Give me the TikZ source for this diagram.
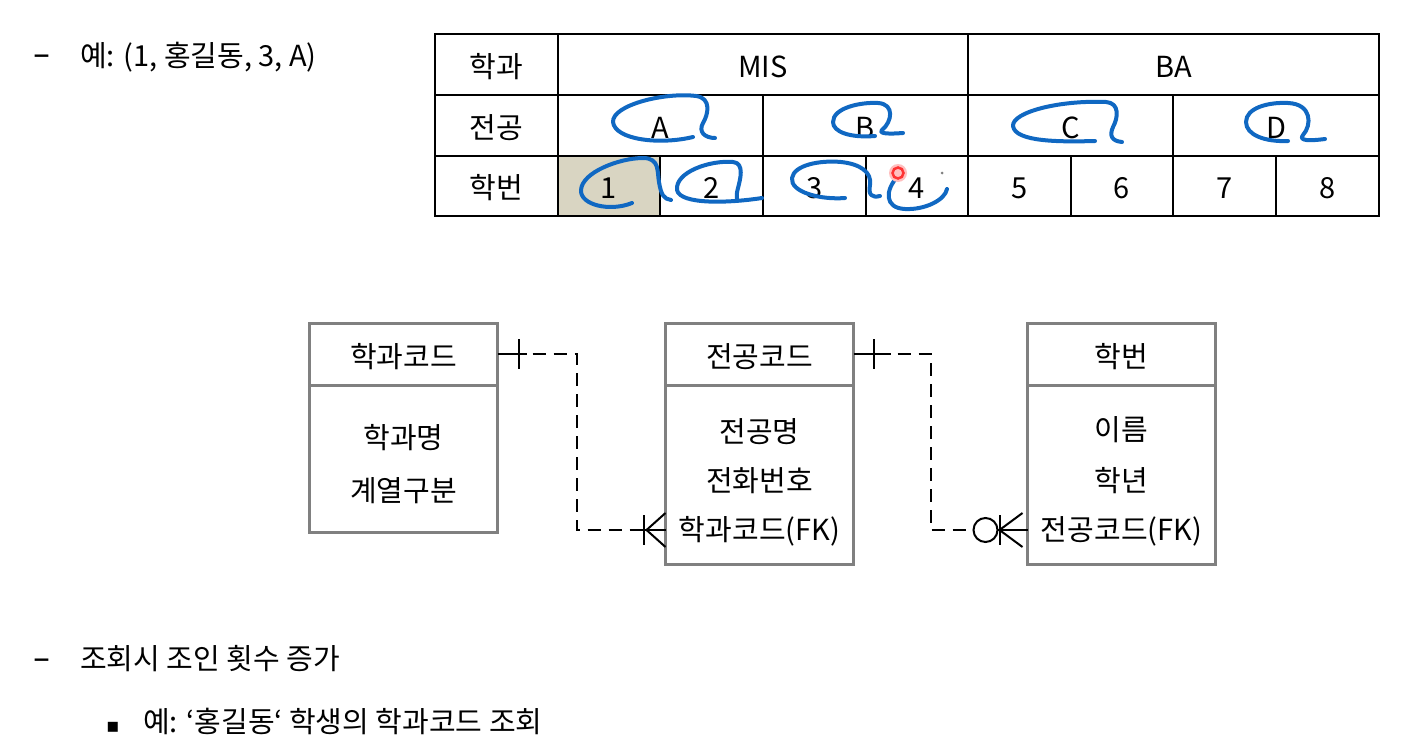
\documentclass[tikz,border=0pt]{standalone}
\usepackage{fontspec}
\setmainfont{Noto Sans CJK KR}
\newfontfamily\symfont{DejaVu Sans}
\usetikzlibrary{positioning,calc}
\definecolor{boxgray}{HTML}{808080}
\definecolor{cellshade}{HTML}{D9D5C2}
\definecolor{inkblue}{HTML}{1068C2}
\tikzset{
  txt/.style={font=\fontsize{29}{35}\selectfont,inner sep=0pt,text=black,
    text height=25pt,text depth=4pt},
  tblline/.style={line width=2pt,black},
  erbox/.style={rectangle,draw=boxgray,line width=3pt,minimum width=188pt,
    inner sep=0pt,outer sep=0pt},
  link/.style={line width=2pt,black},
  dashlink/.style={link,dash pattern=on 13pt off 8pt},
  ink/.style={line width=4pt,inkblue,line cap=round,line join=round},
}

\begin{document}
\begin{tikzpicture}[x=1pt,y=-1pt]
  \fill[white] (0,0) rectangle (1404,749);
  \useasboundingbox (0,0) rectangle (1404,749);

  % bullet lines
  \node[txt,font=\symfont\fontsize{34}{40}\selectfont] (dash1) at (42,55) {–};
  \node[txt,anchor=west] (ex1) at (80,56) {예: (1, 홍길동, 3, A)};
  \node[txt,font=\symfont\fontsize{34}{40}\selectfont] (dash2) at (42,659) {–};
  \node[txt,anchor=west] (join) at (80,659) {조회시 조인 횟수 증가};
  \node[txt,font=\symfont\fontsize{20}{24}\selectfont] (sq) at (113,722) {▪};
  \node[txt,anchor=west] (ex2) at (143,722) {예: ‘홍길동‘ 학생의 학과코드 조회};

  % code table
  \fill[cellshade] (558,156) rectangle (660,216);
  \draw[tblline] (435,34) rectangle (1379,216);
  \draw[tblline] (435,95) -- (1379,95) (435,156) -- (1379,156);
  \draw[tblline] (558,34) -- (558,216) (968,34) -- (968,216);
  \draw[tblline] (763,95) -- (763,216) (1173,95) -- (1173,216);
  \foreach \x in {660,866,1071,1276}
    \draw[tblline] (\x,156) -- (\x,216);

  \node[txt] (hdept) at (496.5,67) {학과};
  \node[txt] (hmajor) at (496.5,128) {전공};
  \node[txt] (hid) at (496.5,188) {학번};
  \node[txt] (mis) at (763,67) {MIS};
  \node[txt] (ba) at (1173.5,67) {BA};
  \node[txt] (ma) at (660.5,128) {A};
  \node[txt] (mb) at (865.5,128) {B};
  \node[txt] (mc) at (1070.5,128) {C};
  \node[txt] (md) at (1276,128) {D};
  \foreach \n/\x in {1/609,2/711.5,3/814.5,4/917,5/1019.5,6/1122,7/1224.5,8/1327.5}
    \node[txt] (n\n) at (\x,188) {\n};

  % hand annotations
  \draw[ink] (693,137) .. controls (660,145) and (615,140) .. (613,122)
    .. controls (612,105) and (665,92) .. (696,96)
    .. controls (712,98) and (708,115) .. (703,123)
    .. controls (698,132) and (705,138) .. (715,138);
  \draw[ink] (875,136) .. controls (850,138) and (833,132) .. (833,122)
    .. controls (833,108) and (860,102) .. (878,103)
    .. controls (895,104) and (892,122) .. (882,130)
    .. controls (878,134) and (890,134) .. (903,133);
  \draw[ink] (1095,141) .. controls (1060,142) and (1015,142) .. (1013,126)
    .. controls (1012,112) and (1060,100) .. (1106,102)
    .. controls (1120,103) and (1118,118) .. (1113,127)
    .. controls (1109,136) and (1112,141) .. (1122,142);
  \draw[ink] (1288,141) .. controls (1265,142) and (1246,135) .. (1246,122)
    .. controls (1246,108) and (1268,102) .. (1288,103)
    .. controls (1312,104) and (1312,125) .. (1303,135)
    .. controls (1298,141) and (1310,141) .. (1325,139);
  \draw[ink] (632,203) .. controls (610,212) and (580,205) .. (581,190)
    .. controls (582,172) and (620,158) .. (643,158)
    .. controls (660,158) and (657,172) .. (659,182)
    .. controls (661,195) and (664,199) .. (671,200);
  \draw[ink] (762,198) .. controls (730,203) and (680,205) .. (677,190)
    .. controls (675,172) and (710,160) .. (733,162)
    .. controls (745,163) and (740,180) .. (738,188)
    .. controls (736,195) and (737,198) .. (737,201);
  \draw[ink] (845,198) .. controls (820,200) and (790,192) .. (792,178)
    .. controls (794,165) and (820,160) .. (841,162)
    .. controls (860,164) and (872,172) .. (870,185)
    .. controls (868,195) and (872,198) .. (880,196);
  \draw[ink] (898,176) .. controls (885,190) and (884,208) .. (905,209)
    .. controls (925,210) and (945,200) .. (947,189);
  \fill[red!25] (898,173) circle[radius=9];
  \draw[red!80,line width=2.5pt] (898,173) circle[radius=5.5];
  \fill[gray] (942,173) circle[radius=1.5];

  % ER boxes
  \node[erbox,minimum height=62pt] (deptkey) at (403.5,354) {};
  \node[erbox,minimum height=147pt,below=0pt of deptkey] (deptbody) {};
  \node[erbox,minimum height=62pt] (majkey) at (759.5,354) {};
  \node[erbox,minimum height=179pt,below=0pt of majkey] (majbody) {};
  \node[erbox,minimum height=62pt] (stukey) at (1121.5,354) {};
  \node[erbox,minimum height=179pt,below=0pt of stukey] (stubody) {};

  \node[txt] (deptcode) at ($(deptkey)+(0,3)$) {학과코드};
  \node[txt] (deptname) at ($(deptbody.north)+(0,53)$) {학과명};
  \node[txt] (deptkind) at ($(deptbody.north)+(0,106)$) {계열구분};
  \node[txt] (majcode) at ($(majkey)+(0,3)$) {전공코드};
  \node[txt] (majname) at ($(majbody.north)+(0,47)$) {전공명};
  \node[txt] (majtel) at ($(majbody.north)+(0,96)$) {전화번호};
  \node[txt] (majfk) at ($(majbody.north)+(0,145)$) {학과코드(FK)};
  \node[txt] (stuid) at ($(stukey)+(0,3)$) {학번};
  \node[txt] (stuname) at ($(stubody.north)+(0,45)$) {이름};
  \node[txt] (stuyear) at ($(stubody.north)+(0,96)$) {학년};
  \node[txt] (stufk) at ($(stubody.north)+(0,145)$) {전공코드(FK)};

  % relationships
  \coordinate (fk1) at (majfk -| majbody.west);
  \coordinate (fk2) at (stufk -| stubody.west);

  \draw[link] (deptkey.east) -- ++(29,0);
  \draw[link] ($(deptkey.east)+(21,-15)$) -- ++(0,30);
  \draw[dashlink] ($(deptkey.east)+(35,0)$) -| ($(fk1)+(-89,0)$) -- ($(fk1)+(-22,0)$);
  \draw[link] ($(fk1)+(-22,-15)$) -- ++(0,30);
  \draw[link] ($(fk1)+(0,-17)$) -- ($(fk1)+(-19,0)$) -- ($(fk1)+(0,17)$);
  \draw[link] ($(fk1)+(-22,0)$) -- (fk1);

  \draw[link] (majkey.east) -- ++(37,0);
  \draw[link] ($(majkey.east)+(20,-15)$) -- ++(0,30);
  \draw[dashlink] ($(majkey.east)+(44,0)$) -| ($(fk2)+(-97,0)$) -- ($(fk2)+(-54,0)$);
  \draw[link] ($(fk2)+(-42,0)$) circle[radius=12];
  \draw[link] ($(fk2)+(-28,-15)$) -- ++(0,30);
  \draw[link] ($(fk2)+(-5,-17)$) -- ($(fk2)+(-28,0)$) -- ($(fk2)+(-5,17)$);
  \draw[link] ($(fk2)+(-30,0)$) -- (fk2);
\end{tikzpicture}
\end{document}
